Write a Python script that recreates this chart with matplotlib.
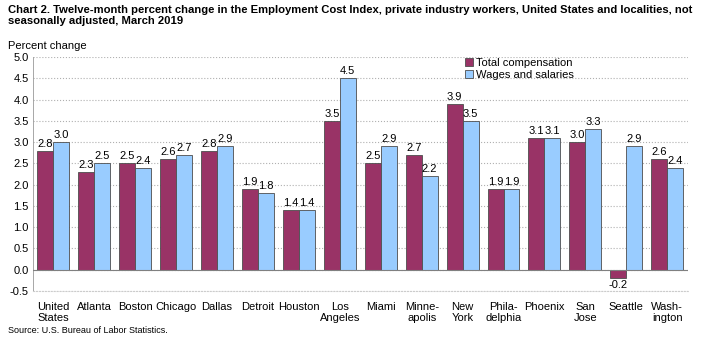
import numpy as np
import matplotlib.pyplot as plt

plt.rcParams['font.family'] = ['Liberation Sans', 'DejaVu Sans']

localities = ["United\nStates", "Atlanta", "Boston", "Chicago", "Dallas", "Detroit", "Houston",
              "Los\nAngeles", "Miami", "Minne-\napolis", "New\nYork", "Phila-\ndelphia",
              "Phoenix", "San\nJose", "Seattle", "Wash-\nington"]
total_comp = [2.8, 2.3, 2.5, 2.6, 2.8, 1.9, 1.4, 3.5, 2.5, 2.7, 3.9, 1.9, 3.1, 3.0, -0.2, 2.6]
wages = [3.0, 2.5, 2.4, 2.7, 2.9, 1.8, 1.4, 4.5, 2.9, 2.2, 3.5, 1.9, 3.1, 3.3, 2.9, 2.4]

fig = plt.figure(figsize=(7.01, 3.44), dpi=100)
ax = fig.add_axes([0.047, 0.154, 0.934, 0.680])

x = np.arange(len(localities))
w = 0.39
b1 = ax.bar(x - w / 2, total_comp, w, color='#993366', edgecolor='#4d4d4d', linewidth=0.6,
            label='Total compensation', zorder=3)
b2 = ax.bar(x + w / 2, wages, w, color='#99ccff', edgecolor='#4d4d4d', linewidth=0.6,
            label='Wages and salaries', zorder=3)

for bars, vals in [(b1, total_comp), (b2, wages)]:
    for r, v in zip(bars, vals):
        y = v + 0.05 if v >= 0 else v - 0.05
        ax.text(r.get_x() + r.get_width() / 2, y, f"{v:.1f}", ha='center',
                va='bottom' if v >= 0 else 'top', fontsize=8)

ax.set_xlim(-0.5, len(localities) - 0.5)
ax.set_ylim(-0.5, 5.0)
ax.set_yticks(np.arange(-0.5, 5.01, 0.5))
ax.set_yticklabels([f"{t:.1f}" for t in np.arange(-0.5, 5.01, 0.5)], fontsize=8)
ax.set_xticks(x)
ax.set_xticklabels(localities, fontsize=8, va='top', linespacing=1.1)
ax.tick_params(axis='both', length=0, pad=8)
ax.tick_params(axis='y', pad=3)
ax.grid(axis='y', color='#b0b0b0', linestyle=':', linewidth=0.8, zorder=0)
ax.axhline(0, color='#808080', linewidth=0.8, zorder=4)
for s in ['top', 'right']:
    ax.spines[s].set_visible(False)
ax.spines['left'].set_color('#999999')
ax.spines['left'].set_linewidth(0.6)
ax.spines['bottom'].set_color('#cccccc')
ax.spines['bottom'].set_linestyle(':')

ax.legend(loc='upper left', bbox_to_anchor=(0.645, 1.04), frameon=False, fontsize=8,
          handlelength=0.7, handleheight=0.7, handletextpad=0.3, labelspacing=0.2)

fig.text(0.012, 0.985, "Chart 2. Twelve-month percent change in the Employment Cost Index, private industry workers, United States and localities, not\nseasonally adjusted, March 2019",
         fontsize=8.1, fontweight='bold', va='top', ha='left', linespacing=1.1)
fig.text(0.012, 0.88, "Percent change", fontsize=8, va='top')
fig.text(0.012, 0.025, "Source: U.S. Bureau of Labor Statistics.", fontsize=6.5, va='bottom')

fig.savefig('out.png', dpi=100)
